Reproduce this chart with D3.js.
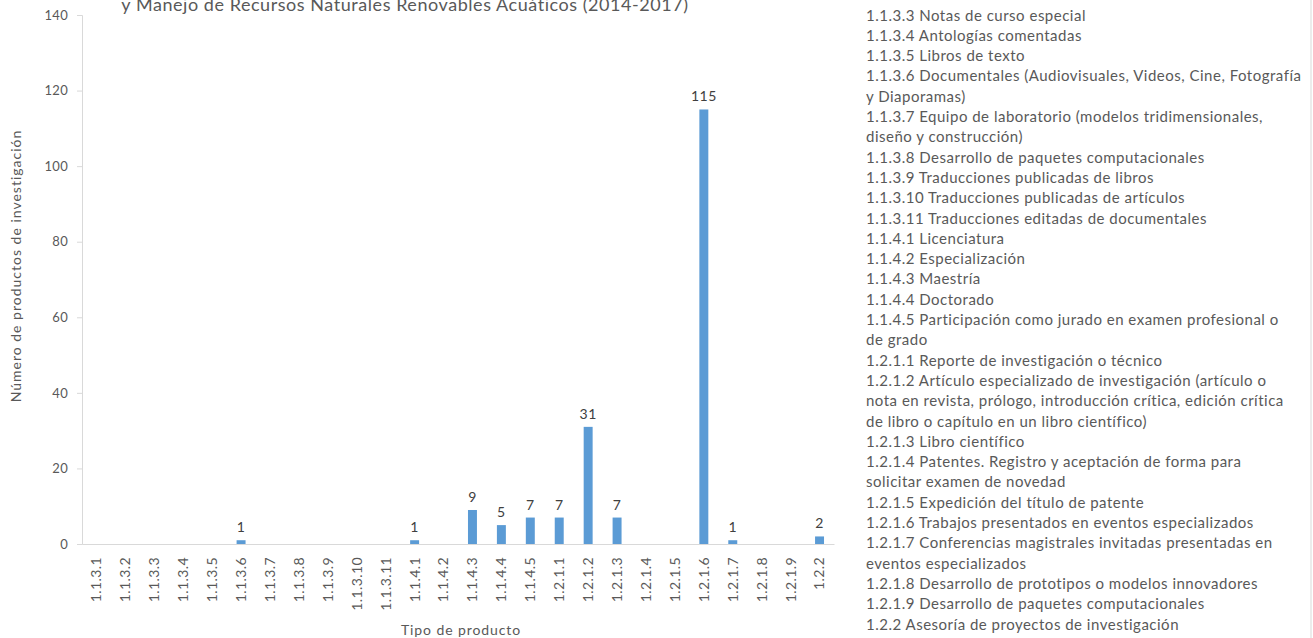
<!DOCTYPE html>
<html>
<head>
<meta charset="utf-8">
<script src="https://cdn.jsdelivr.net/npm/d3@7"></script>
<style>
  body { margin: 0; background: #fff; }
  text { font-family: Lato, "Open Sans", sans-serif; }
</style>
</head>
<body>
<div id="chart"></div>
<script>
// data
const categories = ["1.1.3.1","1.1.3.2","1.1.3.3","1.1.3.4","1.1.3.5","1.1.3.6","1.1.3.7","1.1.3.8","1.1.3.9","1.1.3.10","1.1.3.11",
  "1.1.4.1","1.1.4.2","1.1.4.3","1.1.4.4","1.1.4.5",
  "1.2.1.1","1.2.1.2","1.2.1.3","1.2.1.4","1.2.1.5","1.2.1.6","1.2.1.7","1.2.1.8","1.2.1.9","1.2.2"];
const values = [0,0,0,0,0,1,0,0,0,0,0, 1,0,9,5,7, 7,31,7,0,0,115,1,0,0, 2];
const yTicks = [0,20,40,60,80,100,120,140];

const titleText = "y Manejo de Recursos Naturales Renovables Acuáticos  (2014-2017)";
const yTitle = "Número de productos de investigación";
const xTitle = "Tipo de producto";

// text box on the right (top of it is cut off in the original)
const legendLines = [
  "1.1.3.2 Notas de curso normal",
  "1.1.3.3 Notas de curso especial",
  "1.1.3.4 Antologías comentadas",
  "1.1.3.5 Libros de texto",
  "1.1.3.6 Documentales (Audiovisuales, Videos, Cine, Fotografía",
  "y Diaporamas)",
  "1.1.3.7 Equipo de laboratorio (modelos tridimensionales,",
  "diseño y construcción)",
  "1.1.3.8 Desarrollo de paquetes computacionales",
  "1.1.3.9 Traducciones publicadas de libros",
  "1.1.3.10 Traducciones publicadas de artículos",
  "1.1.3.11 Traducciones editadas de documentales",
  "1.1.4.1 Licenciatura",
  "1.1.4.2 Especialización",
  "1.1.4.3 Maestría",
  "1.1.4.4 Doctorado",
  "1.1.4.5 Participación como jurado en examen profesional o",
  "de grado",
  "1.2.1.1 Reporte de investigación o técnico",
  "1.2.1.2 Artículo especializado de investigación (artículo o",
  "nota en revista, prólogo, introducción crítica, edición crítica",
  "de libro o capítulo en un libro científico)",
  "1.2.1.3 Libro científico",
  "1.2.1.4 Patentes. Registro y aceptación de forma para",
  "solicitar examen de novedad",
  "1.2.1.5 Expedición del título de patente",
  "1.2.1.6 Trabajos presentados en eventos especializados",
  "1.2.1.7 Conferencias magistrales invitadas presentadas en",
  "eventos especializados",
  "1.2.1.8 Desarrollo de prototipos o modelos innovadores",
  "1.2.1.9 Desarrollo de paquetes computacionales",
  "1.2.2 Asesoría de proyectos de investigación"
];

const width = 1313;
const height = 638;
const plot = { left: 82, right: 834, top: 15, bottom: 544 };

const svg = d3.select("#chart")
  .append("svg")
  .attr("width", width)
  .attr("height", height);

const x = d3.scaleBand()
  .domain(categories)
  .range([plot.left, plot.right])
  .paddingInner(0.69)
  .paddingOuter(0.345);

const y = d3.scaleLinear()
  .domain([0, 140])
  .range([plot.bottom, plot.top]);

// bars
svg.append("g")
  .selectAll("rect")
  .data(values)
  .join("rect")
    .attr("x", (d, i) => x(categories[i]))
    .attr("y", d => y(d))
    .attr("width", x.bandwidth())
    .attr("height", d => y(0) - y(d))
    .style("fill", "#5B9BD5");

// value labels, only where there is something
svg.append("g")
  .selectAll("text")
  .data(values.map((v, i) => ({ v, c: categories[i] })).filter(d => d.v > 0))
  .join("text")
    .attr("x", d => x(d.c) + x.bandwidth() / 2)
    .attr("y", d => y(d.v) - 8)
    .attr("text-anchor", "middle")
    .attr("font-size", "14px")
    .attr("letter-spacing", "0.5px")
    .attr("fill", "#404040")
    .text(d => d.v);

// y axis
const yAxis = svg.append("g")
  .attr("transform", `translate(${plot.left},0)`)
  .call(d3.axisLeft(y).tickValues(yTicks).tickSize(5).tickPadding(9));
yAxis.select(".domain").attr("stroke", "#d9d9d9");
yAxis.selectAll(".tick line").attr("stroke", "#d9d9d9");
yAxis.selectAll(".tick text")
  .attr("font-size", "13px")
  .attr("letter-spacing", "0.3px")
  .attr("fill", "#595959")
  .style("font-family", "Lato, sans-serif");

// x axis
const xAxis = svg.append("g")
  .attr("transform", `translate(0,${plot.bottom})`)
  .call(d3.axisBottom(x).tickSize(0).tickPadding(0));
xAxis.select(".domain").attr("stroke", "#d9d9d9");
xAxis.selectAll(".tick text")
  .attr("transform", "rotate(-90)")
  .attr("text-anchor", "end")
  .attr("x", -13)
  .attr("y", 0)
  .attr("dy", "0.35em")
  .attr("font-size", "14px")
  .attr("letter-spacing", "0.4px")
  .attr("fill", "#595959")
  .style("font-family", "Lato, sans-serif");

// title (first line is off the top)
svg.append("text")
  .attr("x", 405)
  .attr("y", 11)
  .attr("text-anchor", "middle")
  .attr("font-size", "18px")
  .attr("letter-spacing", "0.55px")
  .attr("fill", "#595959")
  .text(titleText);

// axis titles
svg.append("text")
  .attr("transform", "translate(21,266) rotate(-90)")
  .attr("text-anchor", "middle")
  .attr("font-size", "14px")
  .attr("letter-spacing", "1px")
  .attr("fill", "#595959")
  .text(yTitle);

svg.append("text")
  .attr("x", 461)
  .attr("y", 635)
  .attr("text-anchor", "middle")
  .attr("font-size", "14px")
  .attr("letter-spacing", "0.9px")
  .attr("fill", "#595959")
  .text(xTitle);

// text box
svg.append("g")
  .selectAll("text")
  .data(legendLines)
  .join("text")
    .attr("x", 866)
    .attr("y", (d, i) => -5 + i * 20.3)
    .attr("dy", "0.35em")
    .attr("font-size", "15px")
    .attr("letter-spacing", "0.5px")
    .attr("fill", "#595959")
    .text(d => d);

svg.append("line")
  .attr("x1", 1311).attr("x2", 1311)
  .attr("y1", 0).attr("y2", height)
  .attr("stroke", "#d9d9d9");
</script>
</body>
</html>
